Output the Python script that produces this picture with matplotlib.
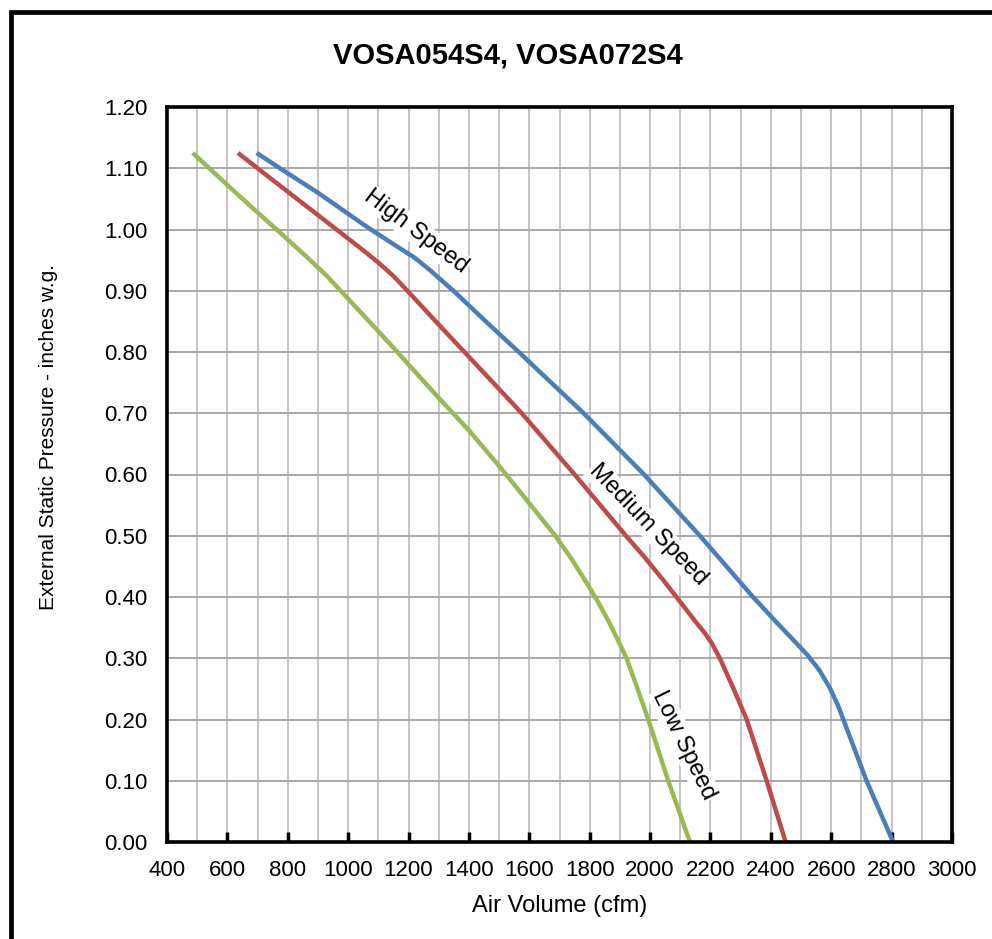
import matplotlib
matplotlib.use('Agg')
import matplotlib.pyplot as plt
from matplotlib.patches import Rectangle
from matplotlib.ticker import MultipleLocator

plt.rcParams['font.family'] = ['Liberation Sans', 'DejaVu Sans']

# Fan curves (cfm, inches w.g.)
high_cfm = [697, 774, 900, 1060, 1150, 1220, 1275, 1355, 1460, 1565, 1780, 1980, 2165,
            2341, 2420, 2474, 2520, 2560, 2595, 2625, 2640, 2680, 2717, 2805]
high_esp = [1.125, 1.10, 1.06, 1.005, 0.976, 0.954, 0.932, 0.897, 0.848, 0.80, 0.70, 0.60, 0.50,
            0.40, 0.358, 0.33, 0.306, 0.281, 0.252, 0.22, 0.20, 0.148, 0.10, 0.0]

med_cfm = [635, 700, 820, 951, 1050, 1100, 1150, 1200, 1290, 1385, 1480, 1575, 1750, 1920,
           1980, 2043, 2100, 2150, 2180, 2205, 2231, 2275, 2320, 2386, 2449]
med_esp = [1.125, 1.10, 1.054, 1.004, 0.966, 0.946, 0.924, 0.898, 0.85, 0.80, 0.75, 0.70, 0.60, 0.50,
           0.466, 0.428, 0.392, 0.36, 0.342, 0.324, 0.30, 0.252, 0.20, 0.10, 0.0]

low_cfm = [485, 540, 650, 763, 870, 930, 975, 1060, 1150, 1300, 1400, 1500, 1600, 1686, 1740,
           1790, 1830, 1865, 1895, 1922, 1955, 1994, 2060, 2132]
low_esp = [1.125, 1.10, 1.05, 1.00, 0.952, 0.924, 0.90, 0.855, 0.807, 0.725, 0.672, 0.614, 0.553, 0.50, 0.462,
           0.423, 0.39, 0.358, 0.328, 0.30, 0.255, 0.20, 0.10, 0.0]

x_ticks = list(range(400, 3001, 200))
y_ticks = [i / 10 for i in range(0, 13)]

fig = plt.figure(figsize=(9.92, 9.39), dpi=100)
ax = fig.add_axes([167 / 992, 97 / 939, 785 / 992, 735 / 939])

# grid: vertical every 100, horizontal every 0.1
ax.set_xlim(400, 3000)
ax.set_ylim(0, 1.2)
ax.xaxis.set_minor_locator(MultipleLocator(100))
ax.set_xticks(x_ticks)
ax.set_yticks(y_ticks)
ax.set_yticklabels([f'{v:.2f}' for v in y_ticks])
ax.grid(True, axis='x', which='both', color='#c4c4c4', linewidth=1.4)
ax.grid(True, axis='y', which='major', color='#a8a8a8', linewidth=1.4)
ax.set_axisbelow(True)

ax.tick_params(axis='x', which='major', direction='in', length=7, width=2.5, pad=13, labelsize=16)
ax.tick_params(axis='x', which='minor', length=0)
ax.tick_params(axis='y', length=0, pad=14, labelsize=16)
for s in ax.spines.values():
    s.set_linewidth(2.6)

ax.plot(high_cfm, high_esp, color='#4a7ebb', linewidth=3.2, solid_capstyle='butt')
ax.plot(med_cfm, med_esp, color='#be4b48', linewidth=3.2, solid_capstyle='butt')
ax.plot(low_cfm, low_esp, color='#98b954', linewidth=3.2, solid_capstyle='butt')

box = dict(facecolor='white', edgecolor='none', pad=1)
ax.text(1225, 0.997, 'High Speed', rotation=-37, fontsize=17, ha='center', va='center', bbox=box)
ax.text(1994, 0.518, 'Medium Speed', rotation=-46, fontsize=17, ha='center', va='center', bbox=box)
ax.text(2112, 0.158, 'Low Speed', rotation=-64, fontsize=17, ha='center', va='center', bbox=box)

fig.text(560 / 992, 1 - 906 / 939, 'Air Volume (cfm)', fontsize=17, ha='center', va='center')
fig.text(49 / 992, 1 - 437 / 939, 'External Static Pressure - inches w.g.', rotation=90,
         fontsize=15, ha='center', va='center')
fig.text(508 / 992, 1 - 55 / 939, 'VOSA054S4, VOSA072S4', fontsize=21, fontweight='bold',
         ha='center', va='center')

# outer frame, cut off at right and bottom
fig.patches.append(Rectangle((10.5 / 992, -0.1), 1.2, 1.1 - 11.7 / 939, transform=fig.transFigure,
                             fill=False, edgecolor='black', linewidth=3.4, clip_on=False))

fig.savefig('out.png', dpi=100)
